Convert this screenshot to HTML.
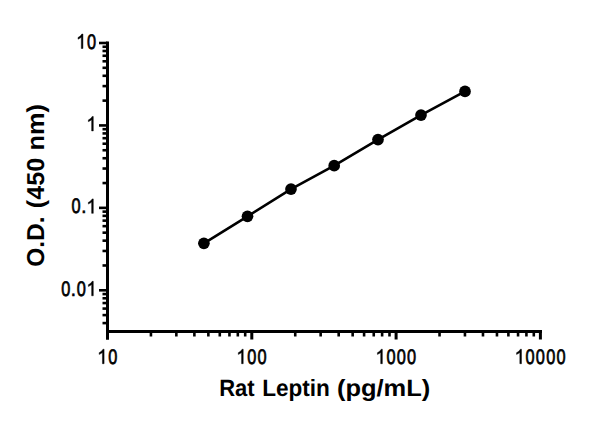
<!DOCTYPE html>
<html><head><meta charset="utf-8"><style>
html,body{margin:0;padding:0;background:#fff;width:600px;height:421px;overflow:hidden}
svg{display:block}
text{font-family:"Liberation Sans",sans-serif;fill:#000;text-rendering:geometricPrecision}
</style></head><body>
<svg width="600" height="421" viewBox="0 0 600 421">
<line x1="107.5" y1="41.5" x2="107.5" y2="339.5" stroke="#000" stroke-width="3.0"/>
<line x1="106.0" y1="331.5" x2="542" y2="331.5" stroke="#000" stroke-width="3.0"/>
<line x1="99" y1="43.00" x2="107.5" y2="43.00" stroke="#000" stroke-width="2.6"/>
<line x1="99" y1="125.43" x2="107.5" y2="125.43" stroke="#000" stroke-width="2.6"/>
<line x1="99" y1="207.86" x2="107.5" y2="207.86" stroke="#000" stroke-width="2.6"/>
<line x1="99" y1="290.29" x2="107.5" y2="290.29" stroke="#000" stroke-width="2.6"/>
<line x1="102.5" y1="323.09" x2="107.5" y2="323.09" stroke="#000" stroke-width="2.6"/>
<line x1="102.5" y1="315.10" x2="107.5" y2="315.10" stroke="#000" stroke-width="2.6"/>
<line x1="102.5" y1="308.58" x2="107.5" y2="308.58" stroke="#000" stroke-width="2.6"/>
<line x1="102.5" y1="303.06" x2="107.5" y2="303.06" stroke="#000" stroke-width="2.6"/>
<line x1="102.5" y1="298.28" x2="107.5" y2="298.28" stroke="#000" stroke-width="2.6"/>
<line x1="102.5" y1="294.06" x2="107.5" y2="294.06" stroke="#000" stroke-width="2.6"/>
<line x1="102.5" y1="265.48" x2="107.5" y2="265.48" stroke="#000" stroke-width="2.6"/>
<line x1="102.5" y1="250.96" x2="107.5" y2="250.96" stroke="#000" stroke-width="2.6"/>
<line x1="102.5" y1="240.66" x2="107.5" y2="240.66" stroke="#000" stroke-width="2.6"/>
<line x1="102.5" y1="232.67" x2="107.5" y2="232.67" stroke="#000" stroke-width="2.6"/>
<line x1="102.5" y1="226.15" x2="107.5" y2="226.15" stroke="#000" stroke-width="2.6"/>
<line x1="102.5" y1="220.63" x2="107.5" y2="220.63" stroke="#000" stroke-width="2.6"/>
<line x1="102.5" y1="215.85" x2="107.5" y2="215.85" stroke="#000" stroke-width="2.6"/>
<line x1="102.5" y1="211.63" x2="107.5" y2="211.63" stroke="#000" stroke-width="2.6"/>
<line x1="102.5" y1="183.05" x2="107.5" y2="183.05" stroke="#000" stroke-width="2.6"/>
<line x1="102.5" y1="168.53" x2="107.5" y2="168.53" stroke="#000" stroke-width="2.6"/>
<line x1="102.5" y1="158.23" x2="107.5" y2="158.23" stroke="#000" stroke-width="2.6"/>
<line x1="102.5" y1="150.24" x2="107.5" y2="150.24" stroke="#000" stroke-width="2.6"/>
<line x1="102.5" y1="143.72" x2="107.5" y2="143.72" stroke="#000" stroke-width="2.6"/>
<line x1="102.5" y1="138.20" x2="107.5" y2="138.20" stroke="#000" stroke-width="2.6"/>
<line x1="102.5" y1="133.42" x2="107.5" y2="133.42" stroke="#000" stroke-width="2.6"/>
<line x1="102.5" y1="129.20" x2="107.5" y2="129.20" stroke="#000" stroke-width="2.6"/>
<line x1="102.5" y1="100.62" x2="107.5" y2="100.62" stroke="#000" stroke-width="2.6"/>
<line x1="102.5" y1="86.10" x2="107.5" y2="86.10" stroke="#000" stroke-width="2.6"/>
<line x1="102.5" y1="75.80" x2="107.5" y2="75.80" stroke="#000" stroke-width="2.6"/>
<line x1="102.5" y1="67.81" x2="107.5" y2="67.81" stroke="#000" stroke-width="2.6"/>
<line x1="102.5" y1="61.29" x2="107.5" y2="61.29" stroke="#000" stroke-width="2.6"/>
<line x1="102.5" y1="55.77" x2="107.5" y2="55.77" stroke="#000" stroke-width="2.6"/>
<line x1="102.5" y1="50.99" x2="107.5" y2="50.99" stroke="#000" stroke-width="2.6"/>
<line x1="102.5" y1="46.77" x2="107.5" y2="46.77" stroke="#000" stroke-width="2.6"/>
<line x1="107.50" y1="331.5" x2="107.50" y2="339.5" stroke="#000" stroke-width="3.0"/>
<line x1="251.80" y1="331.5" x2="251.80" y2="339.5" stroke="#000" stroke-width="3.0"/>
<line x1="396.10" y1="331.5" x2="396.10" y2="339.5" stroke="#000" stroke-width="3.0"/>
<line x1="540.40" y1="331.5" x2="540.40" y2="339.5" stroke="#000" stroke-width="3.0"/>
<line x1="150.94" y1="331.5" x2="150.94" y2="336.5" stroke="#000" stroke-width="2.6"/>
<line x1="176.35" y1="331.5" x2="176.35" y2="336.5" stroke="#000" stroke-width="2.6"/>
<line x1="194.38" y1="331.5" x2="194.38" y2="336.5" stroke="#000" stroke-width="2.6"/>
<line x1="208.36" y1="331.5" x2="208.36" y2="336.5" stroke="#000" stroke-width="2.6"/>
<line x1="219.79" y1="331.5" x2="219.79" y2="336.5" stroke="#000" stroke-width="2.6"/>
<line x1="229.45" y1="331.5" x2="229.45" y2="336.5" stroke="#000" stroke-width="2.6"/>
<line x1="237.82" y1="331.5" x2="237.82" y2="336.5" stroke="#000" stroke-width="2.6"/>
<line x1="245.20" y1="331.5" x2="245.20" y2="336.5" stroke="#000" stroke-width="2.6"/>
<line x1="295.24" y1="331.5" x2="295.24" y2="336.5" stroke="#000" stroke-width="2.6"/>
<line x1="320.65" y1="331.5" x2="320.65" y2="336.5" stroke="#000" stroke-width="2.6"/>
<line x1="338.68" y1="331.5" x2="338.68" y2="336.5" stroke="#000" stroke-width="2.6"/>
<line x1="352.66" y1="331.5" x2="352.66" y2="336.5" stroke="#000" stroke-width="2.6"/>
<line x1="364.09" y1="331.5" x2="364.09" y2="336.5" stroke="#000" stroke-width="2.6"/>
<line x1="373.75" y1="331.5" x2="373.75" y2="336.5" stroke="#000" stroke-width="2.6"/>
<line x1="382.12" y1="331.5" x2="382.12" y2="336.5" stroke="#000" stroke-width="2.6"/>
<line x1="389.50" y1="331.5" x2="389.50" y2="336.5" stroke="#000" stroke-width="2.6"/>
<line x1="439.54" y1="331.5" x2="439.54" y2="336.5" stroke="#000" stroke-width="2.6"/>
<line x1="464.95" y1="331.5" x2="464.95" y2="336.5" stroke="#000" stroke-width="2.6"/>
<line x1="482.98" y1="331.5" x2="482.98" y2="336.5" stroke="#000" stroke-width="2.6"/>
<line x1="496.96" y1="331.5" x2="496.96" y2="336.5" stroke="#000" stroke-width="2.6"/>
<line x1="508.39" y1="331.5" x2="508.39" y2="336.5" stroke="#000" stroke-width="2.6"/>
<line x1="518.05" y1="331.5" x2="518.05" y2="336.5" stroke="#000" stroke-width="2.6"/>
<line x1="526.42" y1="331.5" x2="526.42" y2="336.5" stroke="#000" stroke-width="2.6"/>
<line x1="533.80" y1="331.5" x2="533.80" y2="336.5" stroke="#000" stroke-width="2.6"/>
<g aria-label="10" transform="translate(96.70,48.50) scale(0.9300,1.0500)"><path transform="translate(-22.246,0) scale(0.00977,-0.00977)" d="M763,0 L583,0 L583,1100 C520,1040 330,940 222,905 L222,1075 C380,1140 560,1270 640,1409 L763,1409 Z" fill="#000" stroke="#000" stroke-width="46.1"/><text transform="translate(-5.562,0) scale(0.88,1)" x="-5.562" font-size="20" font-weight="normal" stroke="#000" stroke-width="0.65">0</text></g>
<g aria-label="1" transform="translate(96.70,130.93) scale(0.9300,1.0500)"><path transform="translate(-11.123,0) scale(0.00977,-0.00977)" d="M763,0 L583,0 L583,1100 C520,1040 330,940 222,905 L222,1075 C380,1140 560,1270 640,1409 L763,1409 Z" fill="#000" stroke="#000" stroke-width="46.1"/></g>
<g aria-label="0.1" transform="translate(96.70,213.36) scale(0.9300,1.0500)"><text transform="translate(-22.241,0) scale(0.88,1)" x="-5.562" font-size="20" font-weight="normal" stroke="#000" stroke-width="0.65">0</text><text x="-16.680" font-size="20" font-weight="normal" stroke="#000" stroke-width="0.65">.</text><path transform="translate(-11.123,0) scale(0.00977,-0.00977)" d="M763,0 L583,0 L583,1100 C520,1040 330,940 222,905 L222,1075 C380,1140 560,1270 640,1409 L763,1409 Z" fill="#000" stroke="#000" stroke-width="46.1"/></g>
<g aria-label="0.01" transform="translate(96.70,295.79) scale(0.9300,1.0500)"><text transform="translate(-33.364,0) scale(0.88,1)" x="-5.562" font-size="20" font-weight="normal" stroke="#000" stroke-width="0.65">0</text><text x="-27.803" font-size="20" font-weight="normal" stroke="#000" stroke-width="0.65">.</text><text transform="translate(-16.685,0) scale(0.88,1)" x="-5.562" font-size="20" font-weight="normal" stroke="#000" stroke-width="0.65">0</text><path transform="translate(-11.123,0) scale(0.00977,-0.00977)" d="M763,0 L583,0 L583,1100 C520,1040 330,940 222,905 L222,1075 C380,1140 560,1270 640,1409 L763,1409 Z" fill="#000" stroke="#000" stroke-width="46.1"/></g>
<g aria-label="10" transform="translate(107.50,363.70) scale(0.9300,1.0500)"><path transform="translate(-11.123,0) scale(0.00977,-0.00977)" d="M763,0 L583,0 L583,1100 C520,1040 330,940 222,905 L222,1075 C380,1140 560,1270 640,1409 L763,1409 Z" fill="#000" stroke="#000" stroke-width="46.1"/><text transform="translate(5.562,0) scale(0.88,1)" x="-5.562" font-size="20" font-weight="normal" stroke="#000" stroke-width="0.65">0</text></g>
<g aria-label="100" transform="translate(251.80,363.70) scale(0.9300,1.0500)"><path transform="translate(-16.685,0) scale(0.00977,-0.00977)" d="M763,0 L583,0 L583,1100 C520,1040 330,940 222,905 L222,1075 C380,1140 560,1270 640,1409 L763,1409 Z" fill="#000" stroke="#000" stroke-width="46.1"/><text transform="translate(0.000,0) scale(0.88,1)" x="-5.562" font-size="20" font-weight="normal" stroke="#000" stroke-width="0.65">0</text><text transform="translate(11.123,0) scale(0.88,1)" x="-5.562" font-size="20" font-weight="normal" stroke="#000" stroke-width="0.65">0</text></g>
<g aria-label="1000" transform="translate(396.10,363.70) scale(0.9300,1.0500)"><path transform="translate(-22.246,0) scale(0.00977,-0.00977)" d="M763,0 L583,0 L583,1100 C520,1040 330,940 222,905 L222,1075 C380,1140 560,1270 640,1409 L763,1409 Z" fill="#000" stroke="#000" stroke-width="46.1"/><text transform="translate(-5.562,0) scale(0.88,1)" x="-5.562" font-size="20" font-weight="normal" stroke="#000" stroke-width="0.65">0</text><text transform="translate(5.562,0) scale(0.88,1)" x="-5.562" font-size="20" font-weight="normal" stroke="#000" stroke-width="0.65">0</text><text transform="translate(16.685,0) scale(0.88,1)" x="-5.562" font-size="20" font-weight="normal" stroke="#000" stroke-width="0.65">0</text></g>
<g aria-label="10000" transform="translate(540.40,363.70) scale(0.9300,1.0500)"><path transform="translate(-27.808,0) scale(0.00977,-0.00977)" d="M763,0 L583,0 L583,1100 C520,1040 330,940 222,905 L222,1075 C380,1140 560,1270 640,1409 L763,1409 Z" fill="#000" stroke="#000" stroke-width="46.1"/><text transform="translate(-11.123,0) scale(0.88,1)" x="-5.562" font-size="20" font-weight="normal" stroke="#000" stroke-width="0.65">0</text><text transform="translate(0.000,0) scale(0.88,1)" x="-5.562" font-size="20" font-weight="normal" stroke="#000" stroke-width="0.65">0</text><text transform="translate(11.123,0) scale(0.88,1)" x="-5.562" font-size="20" font-weight="normal" stroke="#000" stroke-width="0.65">0</text><text transform="translate(22.246,0) scale(0.88,1)" x="-5.562" font-size="20" font-weight="normal" stroke="#000" stroke-width="0.65">0</text></g>
<path d="M203.9,243.3 L247.5,216.3 L291.0,189.1 L334.2,165.7 L378.0,139.6 L421.0,115.1 L465.0,91.4" fill="none" stroke="#000" stroke-width="2.6" stroke-linejoin="round"/>
<circle cx="203.9" cy="243.3" r="5.85" fill="#000"/>
<circle cx="247.5" cy="216.3" r="5.85" fill="#000"/>
<circle cx="291.0" cy="189.1" r="5.85" fill="#000"/>
<circle cx="334.2" cy="165.7" r="5.85" fill="#000"/>
<circle cx="378.0" cy="139.6" r="5.85" fill="#000"/>
<circle cx="421.0" cy="115.1" r="5.85" fill="#000"/>
<circle cx="465.0" cy="91.4" r="5.85" fill="#000"/>
<text transform="translate(219.13,395.50) scale(0.9164,0.9800)" text-anchor="start" font-size="24" font-weight="bold">Rat</text>
<text transform="translate(262.19,395.50) scale(0.9406,0.9800)" text-anchor="start" font-size="24" font-weight="bold">Leptin</text>
<text transform="translate(336.93,395.50) scale(1.0610,0.9800)" text-anchor="start" font-size="24" font-weight="bold">(pg/mL)</text>
<text transform="translate(44.20,266.80) rotate(-90) scale(1.0193,1.0200)" text-anchor="start" font-size="24" font-weight="bold">O.D.</text>
<text transform="translate(44.20,208.15) rotate(-90) scale(1.0468,1.0200)" text-anchor="start" font-size="24" font-weight="bold">(450</text>
<text transform="translate(44.20,150.47) rotate(-90) scale(1.0530,1.0200)" text-anchor="start" font-size="24" font-weight="bold">nm)</text>
</svg>
</body></html>
